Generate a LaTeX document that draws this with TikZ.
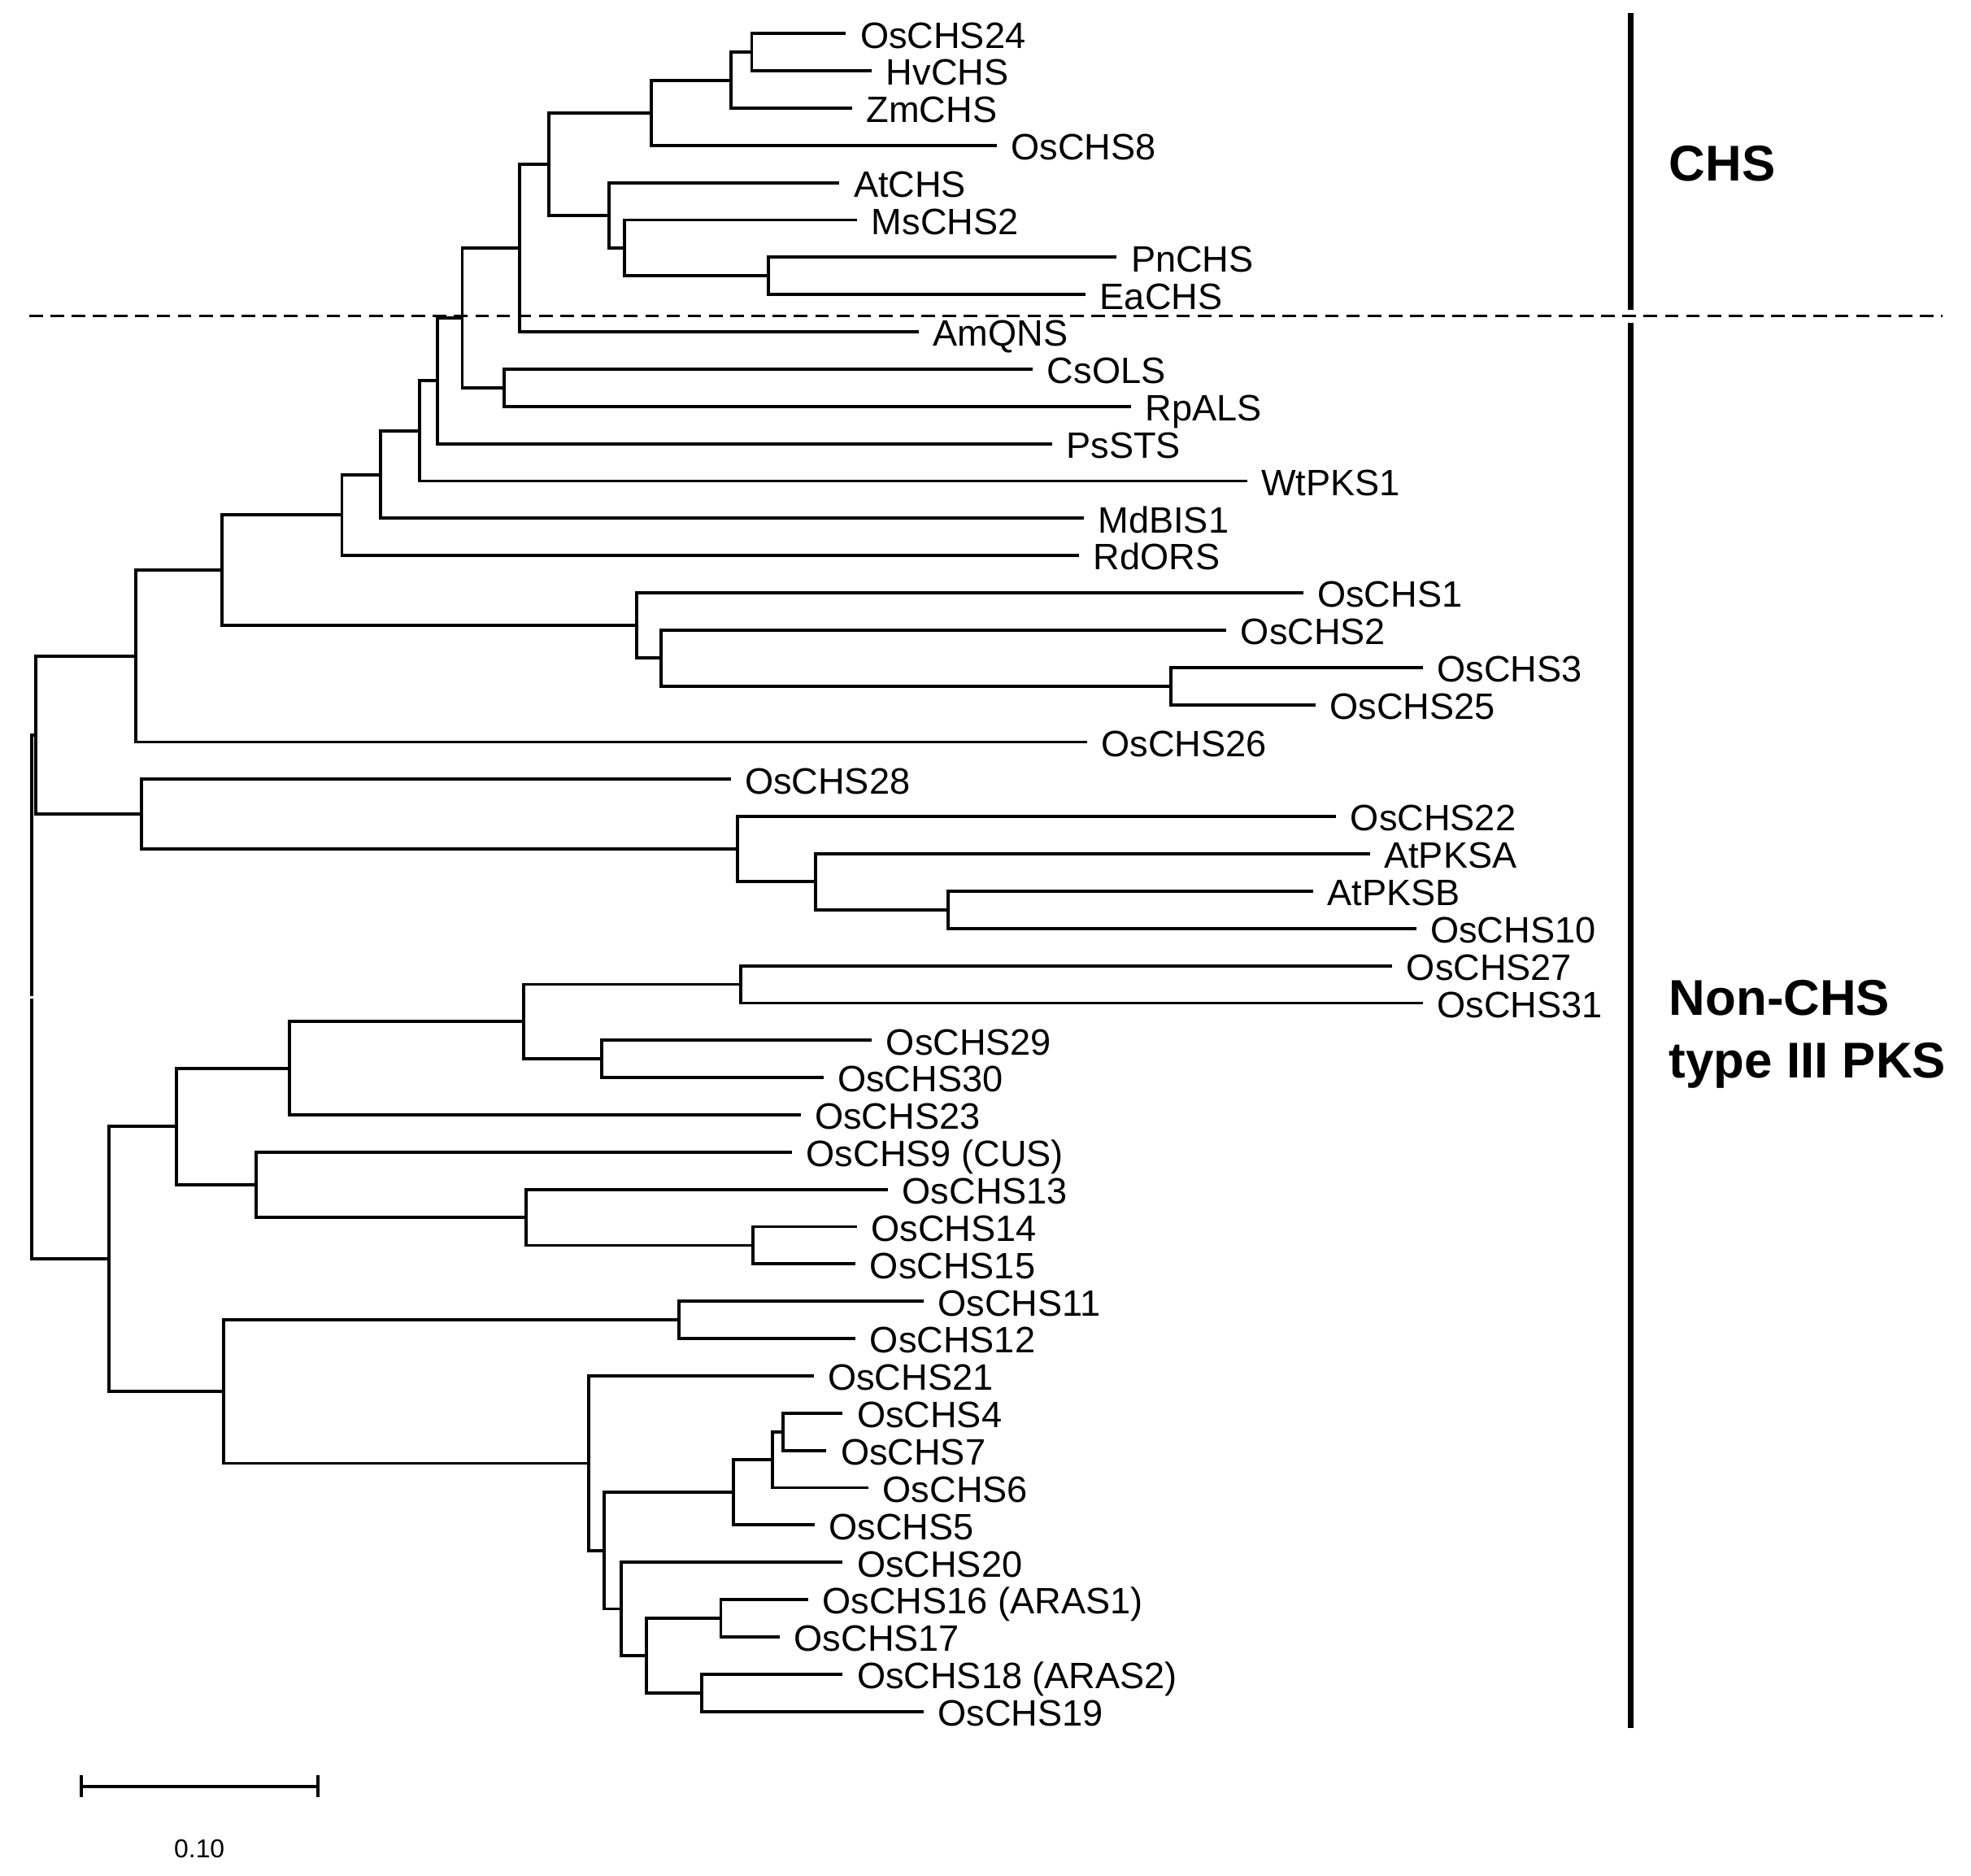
\documentclass[tikz,border=0pt]{standalone}
\usepackage{fontspec}
\setmainfont{Liberation Sans}
\begin{document}
\begin{tikzpicture}[x=0.5pt,y=-0.5pt,
  br/.style={line width=1.25pt},
  lab/.style={anchor=base west, inner sep=0pt, xshift=5.5pt, yshift=-5.75pt, font=\fontsize{14.6}{17}\selectfont},
  grp/.style={anchor=base west, inner sep=0pt, font=\fontsize{20}{24}\selectfont\bfseries},
  sep/.style={line width=2.5pt},
  dsh/.style={line width=1.1pt, dash pattern=on 5.4pt off 3.05pt}]
\fill[white] (0,0) rectangle (1568,1492);
\useasboundingbox (0,0) rectangle (1568,1492);

% leaves: index / end x / label
\foreach \k/\ex/\lab in {
 1/673/OsCHS24, 2/693.6/HvCHS, 3/678/ZmCHS, 4/793/OsCHS8, 5/667.8/AtCHS,
 6/682/MsCHS2, 7/888.4/PnCHS, 8/863.7/EaCHS, 9/731/AmQNS, 10/821.7/CsOLS,
 11/900/RpALS, 12/837/PsSTS, 13/992/WtPKS1, 14/862.2/MdBIS1, 15/858.5/RdORS,
 16/1036.7/OsCHS1, 17/975.7/OsCHS2, 18/1131.8/OsCHS3, 19/1046.6/OsCHS25, 20/864.8/OsCHS26,
 21/581.2/OsCHS28, 22/1063/OsCHS22, 23/1089.7/AtPKSA, 24/1044.5/AtPKSB, 25/1126.5/OsCHS10,
 26/1107.6/OsCHS27, 27/1131.8/OsCHS31, 28/693.6/OsCHS29, 29/655/OsCHS30, 30/636.9/OsCHS23,
 31/630.2/{OsCHS9 (CUS)}, 32/706.5/OsCHS13, 33/681.7/OsCHS14, 34/680.7/OsCHS15, 35/734.8/OsCHS11,
 36/680.7/OsCHS12, 37/647.2/OsCHS21, 38/670.4/OsCHS4, 39/657.5/OsCHS7, 40/691/OsCHS6,
 41/648.2/OsCHS5, 42/670.4/OsCHS20, 43/643/{OsCHS16 (ARAS1)}, 44/620.4/OsCHS17,
 45/670.4/{OsCHS18 (ARAS2)}, 46/734.8/OsCHS19}{
  \coordinate (e\k) at (\ex, {26.7+29.66*(\k-1)});
  \node[lab] (t\k) at (e\k) {\lab};
}

% internal nodes
\coordinate (n24Hv) at (598,41.53);
\coordinate (nZm) at (581.7,63.78);
\coordinate (n8) at (518,89.73);
\coordinate (nPnEa) at (611,219.49);
\coordinate (nMs) at (496.6,197.25);
\coordinate (nAt) at (484.7,171.3);
\coordinate (nCHS) at (436.8,130.51);
\coordinate (nAm) at (413.6,197.25);
\coordinate (nCsRp) at (401.2,308.47);
\coordinate (nA) at (367.7,252.86);
\coordinate (nPs) at (348,302.91);
\coordinate (nWt) at (334,342.77);
\coordinate (nMd) at (302.7,377.52);
\coordinate (nRd) at (272,409.73);
\coordinate (n325) at (931.5,545.75);
\coordinate (n2) at (526,523.5);
\coordinate (n1) at (506.4,497.55);
\coordinate (nB) at (176.4,453.64);
\coordinate (n26) at (108.3,521.94);
\coordinate (nA10) at (754,723.71);
\coordinate (nPKSA) at (648.7,701.47);
\coordinate (n22) at (586.8,675.51);
\coordinate (n28) at (112.4,647.7);
\coordinate (nUp) at (28.4,584.82);
\coordinate (n27) at (589.4,783.03);
\coordinate (n29) at (478.5,842.35);
\coordinate (nC) at (416.7,812.69);
\coordinate (n23) at (230.5,849.77);
\coordinate (n14) at (599.2,990.65);
\coordinate (n13) at (418.7,968.4);
\coordinate (n9) at (203.7,942.45);
\coordinate (nD) at (140.3,896.11);
\coordinate (n11) at (540,1049.97);
\coordinate (n47) at (623,1138.95);
\coordinate (n6) at (614.7,1161.2);
\coordinate (n5) at (583.7,1187.15);
\coordinate (n1617) at (573.4,1287.25);
\coordinate (n1819) at (558,1346.57);
\coordinate (nE) at (514.1,1316.91);
\coordinate (n20) at (494,1279.84);
\coordinate (nF) at (480.6,1233.5);
\coordinate (n21) at (468.2,1163.98);
\coordinate (nG) at (177.9,1106.98);
\coordinate (nLo) at (86.6,1001.55);
% root (drawn with a small gap at its own level)
\coordinate (rootU) at (25.2,792.3);
\coordinate (rootL) at (25.2,794.2);

% branches
\foreach \p/\c in {
 n24Hv/e1, n24Hv/e2, nZm/n24Hv, nZm/e3, n8/nZm, n8/e4,
 nPnEa/e7, nPnEa/e8, nMs/e6, nMs/nPnEa, nAt/e5, nAt/nMs,
 nCHS/n8, nCHS/nAt, nAm/nCHS, nAm/e9, nCsRp/e10, nCsRp/e11,
 nA/nAm, nA/nCsRp, nPs/nA, nPs/e12, nWt/nPs, nWt/e13,
 nMd/nWt, nMd/e14, nRd/nMd, nRd/e15,
 n325/e18, n325/e19, n2/e17, n2/n325, n1/e16, n1/n2,
 nB/nRd, nB/n1, n26/nB, n26/e20,
 nA10/e24, nA10/e25, nPKSA/e23, nPKSA/nA10, n22/e22, n22/nPKSA,
 n28/e21, n28/n22, nUp/n26, nUp/n28,
 n27/e26, n27/e27, n29/e28, n29/e29, nC/n27, nC/n29, n23/nC, n23/e30,
 n14/e33, n14/e34, n13/e32, n13/n14, n9/e31, n9/n13, nD/n23, nD/n9,
 n11/e35, n11/e36, n47/e38, n47/e39, n6/n47, n6/e40, n5/n6, n5/e41,
 n1617/e43, n1617/e44, n1819/e45, n1819/e46, nE/n1617, nE/n1819,
 n20/e42, n20/nE, nF/n5, nF/n20, n21/e37, n21/nF,
 nG/n11, nG/n21, nLo/nD, nLo/nG, rootU/nUp, rootL/nLo}{
  \draw[br] (\p) |- (\c);
}

% dashed separator
\coordinate (dL) at (23.2,251.2);
\coordinate (dR) at (1545.5,251.2);
\draw[dsh] (dL) -- (dR);

% group bars
\coordinate (v1) at (1297.3,10.4);
\coordinate (v2) at (1297.3,246.3);
\coordinate (v3) at (1297.3,256.7);
\coordinate (v4) at (1297.3,1374.6);
\draw[sep] (v1) -- (v2);
\draw[sep] (v3) -- (v4);

\node[grp] (gCHS) at (1327.5,144) {CHS};
\node[grp] (gNon1) at (1327.5,807.8) {Non-CHS};
\node[grp] (gNon2) at (1327.5,857.3) {type III PKS};

% scale bar
\coordinate (sL) at (64.5,1420.9);
\coordinate (sR) at (252.7,1420.9);
\draw[br] (sL) -- (sR);
\draw[br] (sL) ++(0,-8.9) -- ++(0,17.8);
\draw[br] (sR) ++(0,-8.9) -- ++(0,17.8);
\node[anchor=base, inner sep=0pt, font=\fontsize{10.3}{12}\selectfont] (sLab) at (158.6,1477.7) {0.10};
\end{tikzpicture}
\end{document}
